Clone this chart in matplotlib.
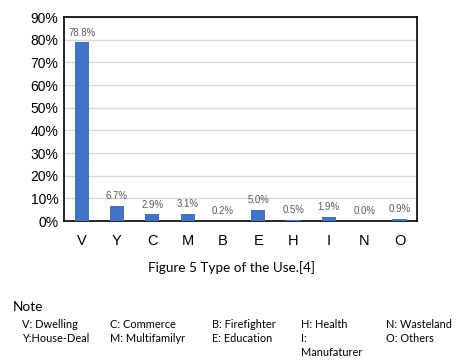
import matplotlib
matplotlib.use('Agg')
import matplotlib.pyplot as plt
from matplotlib.ticker import PercentFormatter

categories = ["V", "Y", "C", "M", "B", "E", "H", "I", "N", "O"]
shares = [78.8, 6.7, 2.9, 3.1, 0.2, 5.0, 0.5, 1.9, 0.0, 0.9]
yticks = [0, 10, 20, 30, 40, 50, 60, 70, 80, 90]

note_cols = [
    ["V: Dwelling", "Y:House-Deal"],
    ["C: Commerce", "M: Multifamilyr"],
    ["B: Firefighter", "E: Education"],
    ["H: Health", "I:\nManufaturer"],
    ["N: Wasteland", "O: Others"],
]

fig = plt.figure(figsize=(4.58, 3.62), dpi=100)
ax = fig.add_axes([0.1397, 0.3895, 0.771, 0.5635])

x = range(len(categories))
ax.bar(x, shares, width=0.4, color="#4472C4", zorder=3)
for i, v in zip(x, shares):
    ax.text(i, v + 2.0, f"{v:.1f}%", ha="center", va="bottom",
            fontsize=6.9, color="#595959", family="Liberation Sans")

ax.set_ylim(0, 90)
ax.set_xlim(-0.5, len(categories) - 0.5)
ax.set_yticks(yticks)
ax.yaxis.set_major_formatter(PercentFormatter(decimals=0))
ax.set_xticks(list(x))
ax.set_xticklabels(categories)
ax.tick_params(axis="y", length=0, labelsize=10, pad=4)
ax.tick_params(axis="x", length=0, labelsize=10.5, pad=9)
for lab in ax.get_xticklabels() + ax.get_yticklabels():
    lab.set_family("Liberation Sans")
ax.grid(axis="y", color="#D9D9D9", linewidth=1, zorder=0)
for s in ax.spines.values():
    s.set_color("black")
    s.set_linewidth(1.2)

fig.text(232 / 458, 1 - 268 / 362, "Figure 5 Type of the Use.[4]",
         ha="center", va="center", fontsize=9.7, family="Lato")
fig.text(13 / 458, 1 - 307 / 362, "Note", ha="left", va="center",
         fontsize=9.8, family="Lato")

col_x = [22, 110, 212, 301, 386]
for cx, items in zip(col_x, note_cols):
    fig.text(cx / 458, 1 - 325 / 362, items[0], ha="left", va="center",
             fontsize=7.9, family="Lato")
    fig.text(cx / 458, 1 - 333 / 362, items[1], ha="left", va="top",
             fontsize=7.9, family="Lato", linespacing=1.3)

fig.savefig("out.png", dpi=100)
